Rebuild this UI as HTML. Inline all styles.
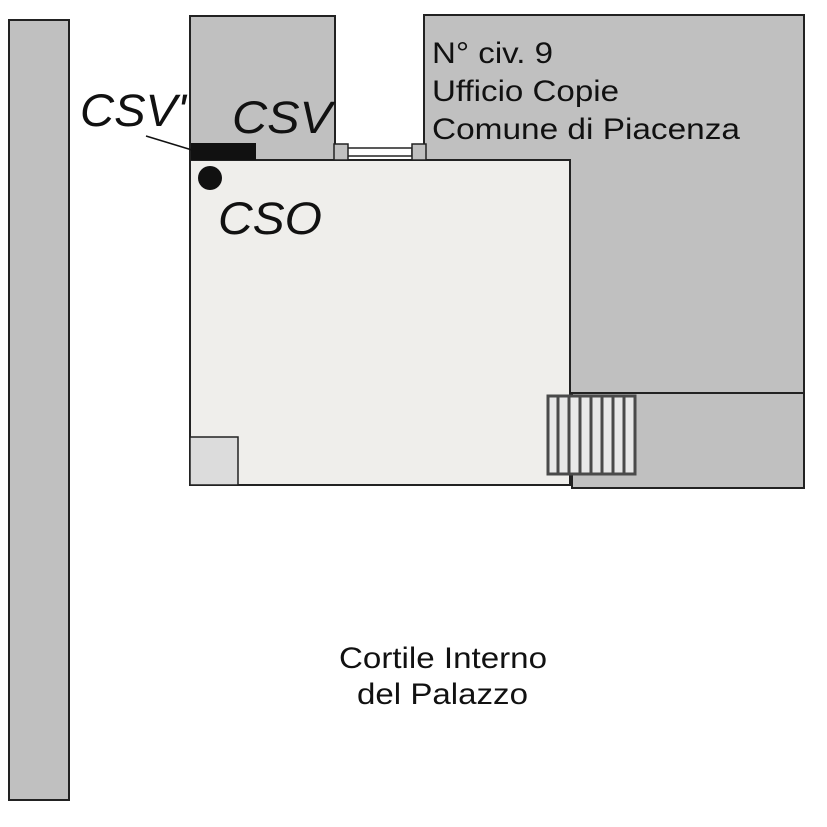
<!DOCTYPE html>
<html><head><style>html,body{margin:0;padding:0;background:#fff}svg{display:block}</style></head>
<body>
<svg width="827" height="827" viewBox="0 0 827 827" xmlns="http://www.w3.org/2000/svg" font-family="Liberation Sans, sans-serif">
<rect x="9" y="20" width="60" height="780" fill="#c0c0c0" stroke="#222" stroke-width="2"/>
<rect x="190" y="16" width="145" height="144" fill="#c0c0c0" stroke="#222" stroke-width="2"/>
<rect x="424" y="15" width="380" height="378" fill="#c0c0c0" stroke="#222" stroke-width="2"/>
<rect x="572" y="393" width="232" height="95" fill="#c0c0c0" stroke="#222" stroke-width="2"/>
<rect x="190" y="160" width="380" height="325" fill="#efeeeb" stroke="#222" stroke-width="2"/>
<rect x="190" y="437" width="48" height="48" fill="#dcdcdc" stroke="#222" stroke-width="1.5"/>
<g stroke="#4a4a4a" stroke-width="3" fill="#e8e8e8">
<rect x="548" y="396" width="87" height="78"/>
<line x1="558" y1="396" x2="558" y2="474"/><line x1="569" y1="396" x2="569" y2="474"/>
<line x1="580" y1="396" x2="580" y2="474"/><line x1="591" y1="396" x2="591" y2="474"/>
<line x1="602" y1="396" x2="602" y2="474"/><line x1="613" y1="396" x2="613" y2="474"/>
<line x1="624" y1="396" x2="624" y2="474"/>
</g>
<rect x="335" y="148" width="77" height="8" fill="#fff" stroke="#222" stroke-width="1.5"/>
<rect x="334" y="144" width="14" height="16" fill="#c0c0c0" stroke="#222" stroke-width="1.5"/>
<rect x="412" y="144" width="14" height="16" fill="#c0c0c0" stroke="#222" stroke-width="1.5"/>
<rect x="191" y="143" width="65" height="17" fill="#111"/>
<circle cx="210" cy="178" r="12" fill="#111"/>
<line x1="146" y1="136" x2="192" y2="150" stroke="#111" stroke-width="1.5"/>
<g font-style="italic" font-size="45" fill="#111">
<text x="80" y="126" textLength="106" lengthAdjust="spacingAndGlyphs">CSV'</text>
<text x="232" y="133" textLength="100" lengthAdjust="spacingAndGlyphs">CSV</text>
<text x="218" y="234" textLength="104" lengthAdjust="spacingAndGlyphs">CSO</text>
</g>
<g font-size="30" fill="#111">
<text x="432" y="63" textLength="121" lengthAdjust="spacingAndGlyphs">N° civ. 9</text>
<text x="432" y="101" textLength="187" lengthAdjust="spacingAndGlyphs">Ufficio Copie</text>
<text x="432" y="139" textLength="308" lengthAdjust="spacingAndGlyphs">Comune di Piacenza</text>
<text x="339" y="668" textLength="208" lengthAdjust="spacingAndGlyphs">Cortile Interno</text>
<text x="357" y="704" textLength="171" lengthAdjust="spacingAndGlyphs">del Palazzo</text>
</g>
</svg>
</body></html>
